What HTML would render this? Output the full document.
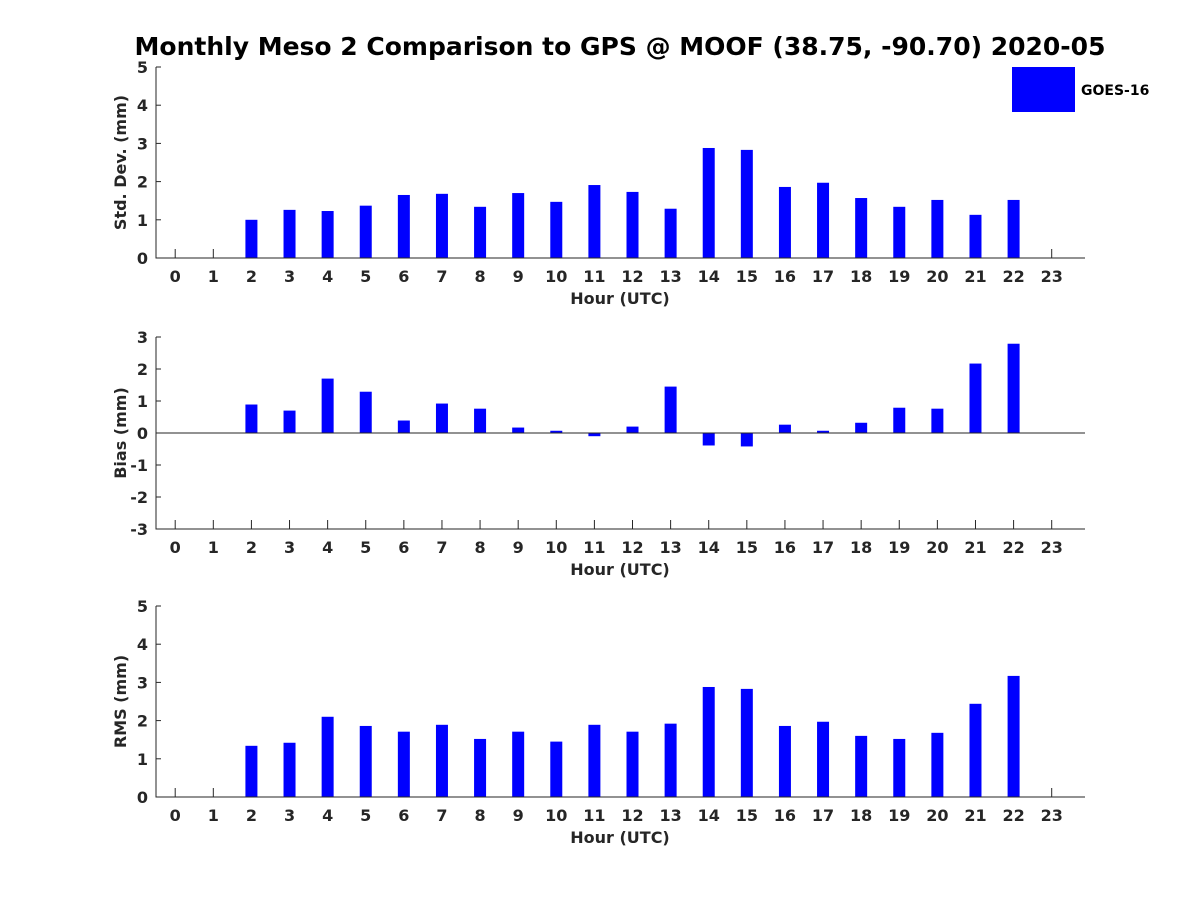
<!DOCTYPE html>
<html><head><meta charset="utf-8"><style>
body{margin:0;background:#fff}
svg text{font-family:"DejaVu Sans","Liberation Sans",sans-serif;font-weight:bold;fill:#262626}
</style></head><body>
<svg id="chart" width="1200" height="900" xmlns="http://www.w3.org/2000/svg">
<text x="620" y="55" text-anchor="middle" font-size="25" style="fill:#000">Monthly Meso 2 Comparison to GPS @ MOOF (38.75, -90.70) 2020-05</text>
<rect x="1012" y="67" width="63" height="45" fill="#0000ff"/>
<text x="1081" y="95" font-size="14" style="fill:#000">GOES-16</text>
</svg>
<script>
const hours=[0,1,2,3,4,5,6,7,8,9,10,11,12,13,14,15,16,17,18,19,20,21,22,23];
const stdDev=[null,null,1.00,1.26,1.23,1.37,1.65,1.68,1.34,1.70,1.47,1.91,1.73,1.29,2.88,2.83,1.86,1.97,1.57,1.34,1.52,1.13,1.52,null];
const bias=[null,null,0.89,0.70,1.70,1.29,0.39,0.92,0.76,0.17,0.07,-0.10,0.20,1.45,-0.39,-0.42,0.26,0.07,0.32,0.79,0.76,2.17,2.79,null];
const rms=[null,null,1.34,1.42,2.10,1.86,1.71,1.89,1.52,1.71,1.45,1.89,1.71,1.92,2.88,2.83,1.86,1.97,1.60,1.52,1.68,2.44,3.17,null];
const stdTicks=[0,1,2,3,4,5];
const biasTicks=[-3,-2,-1,0,1,2,3];
const rmsTicks=[0,1,2,3,4,5];
const svg=document.getElementById('chart');
const NS='http://www.w3.org/2000/svg';
function mk(tag,attrs,parent){const e=document.createElementNS(NS,tag);for(const k in attrs)e.setAttribute(k,attrs[k]);(parent||svg).appendChild(e);return e;}
const X0=156,X1=1085;
function xs(h){return 175.2+h*(1051.7-175.2)/23;}
function panel(name,top,bottom,ymin,ymax,ticks,vals,ylabel){
  const g=mk('g',{});
  
  
  const ys=v=>bottom-(v-ymin)/(ymax-ymin)*(bottom-top);
  hours.forEach(h=>{
    const t=mk('line',{x1:xs(h),x2:xs(h),y1:bottom,y2:bottom-9,stroke:'#262626','stroke-width':1},g);
    
    
    const l=mk('text',{x:xs(h),y:bottom+24,'text-anchor':'middle','font-size':16},g);
    
    
    l.textContent=h;
  });
  ticks.forEach(v=>{
    const t=mk('line',{x1:X0,x2:X0+5,y1:ys(v),y2:ys(v),stroke:'#262626','stroke-width':1},g);
    
    
    const l=mk('text',{x:X0-8,y:ys(v)+6,'text-anchor':'end','font-size':16},g);
    
    
    l.textContent=v;
  });
  const z=ys(Math.max(ymin,0));
  vals.forEach((v,i)=>{
    if(v===null)return;
    const y=Math.min(ys(v),z),h=Math.abs(ys(v)-z);
    const b=mk('rect',{x:xs(hours[i])-6,y:y,width:12,height:h,fill:'#0000ff'},g);
    
    
  });
  const ax=mk('path',{d:`M${X0},${top}V${bottom}H${X1}`,fill:'none',stroke:'#262626','stroke-width':1},g);
  
  
  if(ymin<0){
    const zl=mk('line',{x1:X0,x2:X1,y1:z,y2:z,stroke:'#262626','stroke-width':1},g);
    
    
  }
  const xt=mk('text',{x:620,y:bottom+46,'text-anchor':'middle','font-size':16},g);
  
  
  xt.textContent='Hour (UTC)';
  const cy=(top+bottom)/2;
  const yt=mk('text',{x:126,y:cy,'text-anchor':'middle','font-size':16,transform:`rotate(-90 126 ${cy})`},g);
  
  
  yt.textContent=ylabel;
}
panel('std-dev',67,258,0,5,stdTicks,stdDev,'Std. Dev. (mm)');
panel('bias',337,529,-3,3,biasTicks,bias,'Bias (mm)');
panel('rms',606,797,0,5,rmsTicks,rms,'RMS (mm)');
</script>
</body></html>
